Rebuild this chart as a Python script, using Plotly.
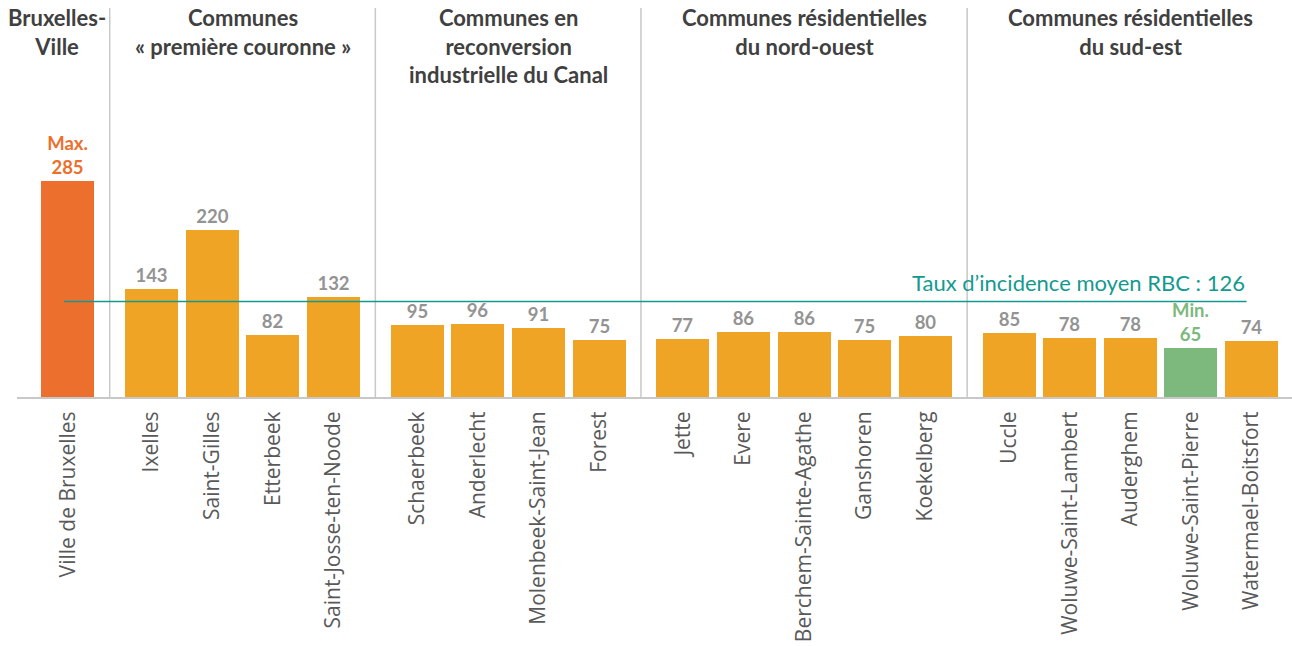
import plotly.graph_objects as go

# ---- data ----
groups = [
    "Bruxelles-<br>Ville",
    "Communes<br>« première couronne »",
    "Communes en<br>reconversion<br>industrielle du Canal",
    "Communes résidentielles<br>du nord-ouest",
    "Communes résidentielles<br>du sud-est",
]
group_sizes = [1, 4, 4, 5, 5]
communes = [
    "Ville de Bruxelles",
    "Ixelles", "Saint-Gilles", "Etterbeek", "Saint-Josse-ten-Noode",
    "Schaerbeek", "Anderlecht", "Molenbeek-Saint-Jean", "Forest",
    "Jette", "Evere", "Berchem-Sainte-Agathe", "Ganshoren", "Koekelberg",
    "Uccle", "Woluwe-Saint-Lambert", "Auderghem", "Woluwe-Saint-Pierre", "Watermael-Boitsfort",
]
values = [285, 143, 220, 82, 132, 95, 96, 91, 75, 77, 86, 86, 75, 80, 85, 78, 78, 65, 74]
average = 126
average_label = "Taux d’incidence moyen RBC : 126"

# ---- styling ----
ORANGE = "#F0A425"
MAX_C = "#ED6F2D"
MIN_C = "#7DB87C"
VAL_C = "#939393"
HEAD_C = "#404040"
TICK_C = "#595959"
TEAL = "#139A90"
SEP_C = "#C8C8C8"
GROUP_GAP = 1.385

# x positions: unit pitch within a group, wider gap between groups
pos = []
group_bounds = []
cur = 0.0
for gi, n in enumerate(group_sizes):
    if gi > 0:
        cur += GROUP_GAP - 1
    start = cur
    for k in range(n):
        pos.append(cur)
        cur += 1
    group_bounds.append((start, cur - 1))

imax = values.index(max(values))
imin = values.index(min(values))
colors = [ORANGE] * len(values)
colors[imax] = MAX_C
colors[imin] = MIN_C
texts = [str(v) for v in values]
texts[imax] = "Max.<br>" + texts[imax]
texts[imin] = "Min.<br>" + texts[imin]
tcolors = [VAL_C] * len(values)
tcolors[imax] = MAX_C
tcolors[imin] = MIN_C

fig = go.Figure()
fig.add_trace(go.Bar(
    x=pos, y=values, width=0.875,
    marker=dict(color=colors, line=dict(width=0)),
    text=texts, textposition="outside", cliponaxis=False, constraintext="none",
    textfont=dict(family="Lato", size=18.5, color=tcolors, weight="bold"),
    hoverinfo="skip", showlegend=False,
))
fig.add_trace(go.Scatter(
    x=[pos[0] - 0.06, pos[-1] - 0.08], y=[average, average], mode="lines",
    line=dict(color=TEAL, width=1.5), hoverinfo="skip", showlegend=False,
))

shapes = []
annotations = []
for gi in range(len(group_sizes)):
    a, b = group_bounds[gi]
    if gi > 0:
        prev_end = group_bounds[gi - 1][1]
        xs = (prev_end + a) / 2
        shapes.append(dict(type="line", xref="x", yref="paper", x0=xs, x1=xs,
                           y0=0, y1=0.98, line=dict(color=SEP_C, width=1.5), layer="below"))
    annotations.append(dict(
        x=(a + b) / 2, y=0.995, xref="x", yref="paper", xanchor="center", yanchor="top",
        text=groups[gi], showarrow=False, xshift=-11 if gi == 0 else 0,
        font=dict(family="Lato", size=22, color=HEAD_C, weight="bold"),
    ))

annotations.append(dict(
    x=pos[-1] - 0.08, y=average, xref="x", yref="y", xanchor="right", yanchor="bottom",
    text=average_label, showarrow=False, yshift=3,
    font=dict(family="Lato", size=22, color=TEAL),
))

fig.update_layout(
    width=1292, height=646,
    margin=dict(l=17, r=0, t=0, b=249),
    paper_bgcolor="white", plot_bgcolor="white",
    shapes=shapes, annotations=annotations,
    bargap=0,
    xaxis=dict(
        range=[-0.838, 20.21], tickmode="array", tickvals=pos, ticktext=communes,
        tickangle=-90, tickfont=dict(family="Open Sans", size=21, color=TICK_C),
        showgrid=False, zeroline=False, showline=True, linecolor=SEP_C, linewidth=2,
        ticks="", ticklabelstandoff=4, automargin=False,
    ),
    yaxis=dict(range=[0, 523.7], visible=False, showgrid=False, zeroline=False,
               automargin=False),
)

fig.write_html("out.html")
